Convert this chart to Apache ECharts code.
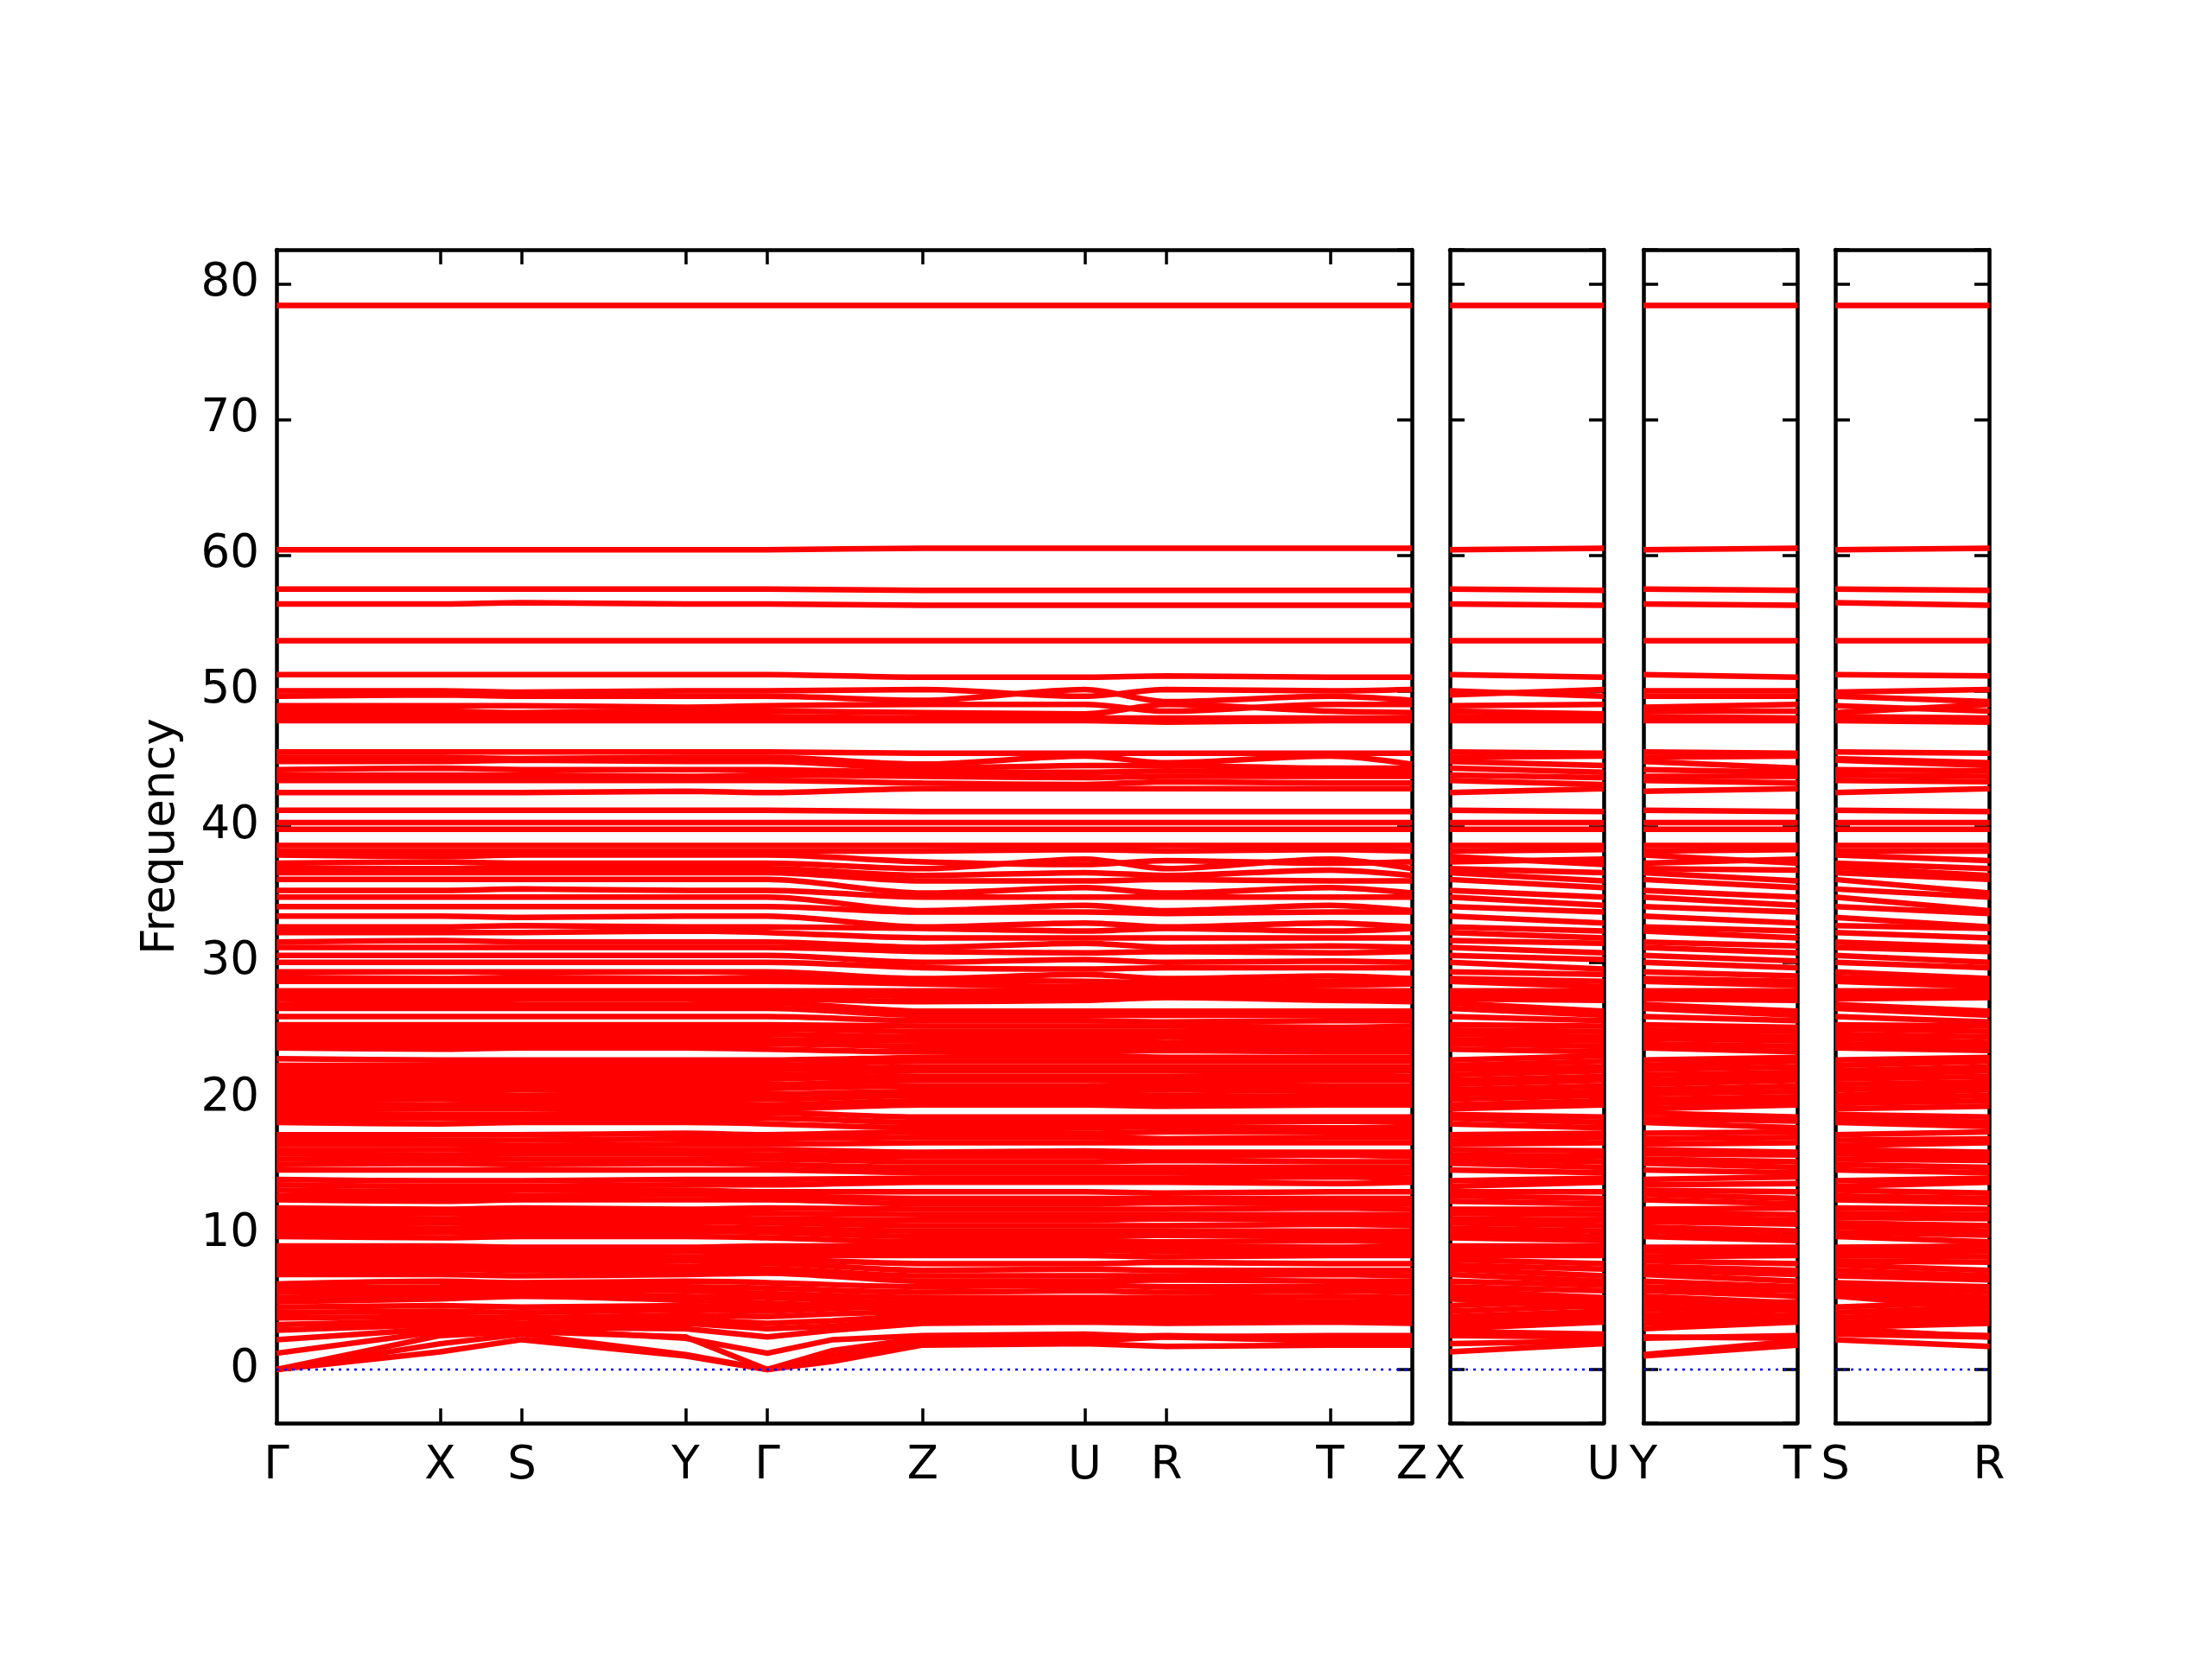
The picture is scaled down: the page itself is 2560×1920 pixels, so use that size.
<!DOCTYPE html>
<html><head><meta charset="utf-8">
<script src="https://cdn.jsdelivr.net/npm/echarts@6/dist/echarts.min.js"></script>
<style>html,body{margin:0;padding:0;background:#fff}#c{width:2560px;height:1920px}</style>
</head><body><div id="c"></div>
<script>
// k-path distances of the high-symmetry points on the main panel
const kPos = [0, 1, 1.5, 2.5, 3, 3.95, 4.94, 5.44, 6.44, 6.94];
const kLabels = ['Γ','X','S','Y','Γ','Z','U','R','T','Z'];
const subLen = 0.94;
const subLabels = [['X','U'], ['Y','T'], ['S','R']];
const subIdx = [[1,6], [3,8], [2,7]];

// band frequencies at [Γ, X, S, Y, Γ, Z, U, R, T, Z]
const bandsHigh = [
 [78.4,78.4,78.4,78.4,78.4,78.4,78.4,78.4,78.4,78.4],
 [60.4,60.4,60.4,60.4,60.4,60.5,60.5,60.5,60.5,60.5],
 [57.5,57.5,57.5,57.5,57.5,57.4,57.4,57.4,57.4,57.4],
 [56.4,56.4,56.5,56.4,56.4,56.3,56.3,56.3,56.3,56.3],
 [53.7,53.7,53.7,53.7,53.7,53.7,53.7,53.7,53.7,53.7],
 [51.2,51.2,51.2,51.2,51.2,51.0,51.0,51.1,51.0,51.0],
 [50.0,50.0,49.9,50.0,50.0,50.1,49.6,50.1,50.0,50.1],
 [49.6,49.7,49.6,49.6,49.6,49.3,50.1,49.2,49.6,49.3],
 [48.9,48.9,48.9,48.8,48.9,49.0,49.0,48.5,49.0,49.0],
 [48.5,48.5,48.4,48.5,48.5,48.4,48.3,49.0,48.5,48.4],
 [48.1,48.1,48.1,48.1,48.1,48.0,48.0,48.0,48.0,48.0],
 [47.8,47.8,47.8,47.8,47.8,47.8,47.8,47.7,47.8,47.8]
];
const bandsMid = [
 [45.5,45.5,45.5,45.5,45.5,45.4,45.4,45.4,45.4,45.4],
 [45.1,45.1,45.0,45.1,45.1,44.6,45.2,44.7,45.2,44.6],
 [44.8,44.8,44.9,44.8,44.8,44.3,44.5,44.5,44.3,44.3],
 [44.2,44.3,44.2,44.2,44.2,44.0,44.0,44.1,44.0,44.0],
 [43.8,43.8,43.8,43.7,43.8,43.7,43.6,43.7,43.7,43.7],
 [43.4,43.4,43.4,43.4,43.4,43.2,43.1,43.3,43.2,43.2],
 [42.5,42.5,42.5,42.6,42.5,42.8,42.8,42.8,42.8,42.8],
 [41.2,41.2,41.2,41.2,41.2,41.1,41.1,41.1,41.1,41.1],
 [40.3,40.3,40.3,40.3,40.3,40.3,40.3,40.3,40.3,40.3],
 [39.8,39.8,39.8,39.8,39.8,39.8,39.8,39.8,39.8,39.8],
 [38.6,38.6,38.6,38.6,38.6,38.6,38.6,38.6,38.6,38.6],
 [38.2,38.2,38.2,38.2,38.2,38.2,38.3,38.2,38.3,38.2],
 [37.9,37.8,37.9,37.9,37.9,37.4,37.2,37.5,37.3,37.4],
 [37.3,37.4,37.3,37.3,37.3,36.9,37.6,36.9,37.6,36.9],
 [36.9,36.9,37.0,36.9,36.9,36.4,36.6,36.4,36.8,36.4],
 [36.6,36.6,36.6,36.6,36.6,36.0,36.0,36.1,36.0,36.0],
 [36.1,36.1,36.1,36.1,36.1,35.1,35.5,35.1,35.5,35.1],
 [35.3,35.3,35.4,35.3,35.3,34.8,34.8,34.8,34.8,34.8],
 [34.8,34.8,34.8,34.8,34.8,33.8,34.2,33.8,34.2,33.8],
 [34.1,34.1,34.1,34.1,34.1,33.7,33.7,33.6,33.7,33.7],
 [33.4,33.4,33.3,33.4,33.4,32.6,32.9,32.6,32.9,32.6],
 [32.6,32.6,32.7,32.6,32.6,32.5,32.3,32.5,32.3,32.5],
 [32.2,32.2,32.2,32.3,32.2,31.8,31.8,31.8,31.8,31.8],
 [31.5,31.6,31.5,31.5,31.5,31.1,31.4,31.1,31.2,31.1],
 [31.1,31.1,31.1,31.1,31.1,30.8,30.7,30.8,30.7,30.8],
 [30.5,30.5,30.5,30.5,30.5,30.0,30.2,30.0,30.1,30.0],
 [30.0,30.0,30.0,30.0,30.0,29.6,29.5,29.6,29.6,29.6],
 [29.3,29.3,29.3,29.3,29.3,28.8,29.1,28.8,29.0,28.8],
 [28.9,28.8,28.9,28.8,28.9,28.7,28.6,28.5,28.6,28.7],
 [28.6,28.6,28.6,28.6,28.6,28.4,28.2,28.2,28.3,28.4]
];
const bandsDense = [
 [27.9,27.9,27.9,27.9,27.9,27.9,27.9,27.9,27.9,27.9],
 [27.6,27.6,27.6,27.6,27.6,27.5,27.5,27.7,27.5,27.5],
 [27.3,27.3,27.3,27.3,27.3,27.1,27.2,27.4,27.2,27.1],
 [26.9,27.0,26.9,26.9,27.0,26.4,26.4,26.4,26.4,26.4],
 [26.6,26.6,26.6,26.6,26.6,26.1,26.1,26.1,26.1,26.1],
 [26.0,26.0,26.0,26.0,26.0,25.7,25.7,25.6,25.7,25.7],
 [25.4,25.4,25.4,25.4,25.4,25.3,25.3,25.3,25.2,25.3],
 [25.1,25.0,25.1,25.0,25.1,24.9,24.9,24.9,24.9,24.9],
 [24.7,24.7,24.7,24.7,24.7,24.5,24.5,24.5,24.5,24.5],
 [24.4,24.3,24.4,24.4,24.3,24.2,24.2,24.1,24.2,24.2],
 [24.0,24.0,24.0,24.0,24.0,23.8,23.8,23.8,23.8,23.8],
 [23.7,23.6,23.7,23.7,23.6,23.4,23.4,23.5,23.4,23.4],
 [22.9,22.8,22.8,22.8,22.8,23.0,23.1,23.0,23.0,23.0],
 [22.4,22.4,22.4,22.4,22.4,22.7,22.7,22.7,22.7,22.7],
 [22.1,22.1,22.0,22.1,22.1,22.3,22.3,22.3,22.3,22.3],
 [21.7,21.7,21.7,21.7,21.7,22.0,22.0,22.0,21.9,22.0],
 [21.4,21.3,21.4,21.3,21.4,21.6,21.6,21.6,21.6,21.6],
 [21.0,21.0,21.0,21.0,21.0,21.3,21.3,21.2,21.3,21.3],
 [20.6,20.6,20.6,20.6,20.7,20.9,20.9,20.9,20.9,20.9],
 [20.3,20.3,20.2,20.3,20.3,20.5,20.5,20.6,20.5,20.5],
 [19.9,19.9,19.9,19.9,19.9,20.2,20.2,20.2,20.1,20.2],
 [19.6,19.5,19.6,19.6,19.5,19.8,19.8,19.8,19.8,19.8],
 [19.2,19.2,19.2,19.2,19.2,19.5,19.5,19.4,19.5,19.5],
 [18.9,18.8,18.8,18.9,18.9,18.6,18.6,18.6,18.6,18.6],
 [18.5,18.5,18.5,18.5,18.5,18.2,18.2,18.2,18.3,18.2],
 [18.2,18.1,18.2,18.2,18.1,17.8,17.8,17.9,17.8,17.8],
 [17.3,17.3,17.3,17.4,17.3,17.5,17.4,17.5,17.5,17.5],
 [17.0,16.9,16.9,17.0,17.0,17.1,17.1,17.0,17.1,17.1],
 [16.6,16.6,16.5,16.6,16.6,16.7,16.7,16.7,16.7,16.7],
 [16.2,16.2,16.2,16.2,16.2,16.0,16.1,16.0,16.0,16.0],
 [15.9,15.8,15.9,15.9,15.8,15.7,15.7,15.7,15.8,15.7],
 [15.5,15.5,15.5,15.5,15.5,15.3,15.3,15.4,15.3,15.3],
 [15.1,15.2,15.1,15.2,15.1,14.9,14.9,14.9,14.9,14.9],
 [14.7,14.7,14.7,14.7,14.7,14.5,14.5,14.5,14.5,14.5],
 [14.0,13.9,13.9,14.0,14.0,14.1,14.1,14.1,14.2,14.1],
 [13.6,13.5,13.5,13.6,13.6,13.8,13.8,13.8,13.7,13.8],
 [13.2,13.1,13.2,13.2,13.1,13.1,13.1,13.0,13.1,13.1],
 [12.8,12.8,12.8,12.9,12.8,12.6,12.6,12.6,12.6,12.6],
 [12.5,12.4,12.5,12.5,12.5,12.2,12.2,12.3,12.2,12.2],
 [11.9,11.8,11.9,11.8,11.9,11.8,11.8,11.8,11.9,11.8],
 [11.5,11.5,11.5,11.5,11.5,11.4,11.4,11.4,11.4,11.4],
 [11.2,11.1,11.2,11.2,11.1,11.0,11.0,11.1,11.0,11.0],
 [10.8,10.8,10.8,10.9,10.8,10.6,10.6,10.6,10.7,10.6],
 [10.5,10.4,10.5,10.5,10.4,10.2,10.2,10.2,10.2,10.2],
 [10.1,10.1,10.1,10.2,10.1,9.8,9.8,9.9,9.8,9.8],
 [9.8,9.7,9.8,9.8,9.7,9.4,9.5,9.4,9.5,9.4],
 [9.1,9.1,9.0,9.0,9.1,9.1,9.1,9.1,9.0,9.1],
 [8.7,8.8,8.7,8.7,8.7,8.7,8.8,8.7,8.7,8.7],
 [8.4,8.4,8.4,8.3,8.4,8.4,8.4,8.3,8.4,8.4],
 [8.0,8.1,8.0,8.0,8.1,7.8,7.8,7.9,7.8,7.8],
 [7.7,7.7,7.7,7.6,7.8,7.3,7.4,7.3,7.3,7.3],
 [7.3,7.4,7.3,7.3,7.4,6.9,6.9,6.9,7.0,6.9],
 [7.0,7.0,6.9,7.0,7.1,6.5,6.5,6.6,6.5,6.5],
 [6.3,6.5,6.4,6.5,6.4,6.1,6.2,6.1,6.1,6.1],
 [6.0,6.1,6.2,6.1,6.0,5.7,5.8,5.7,5.8,5.7],
 [5.7,5.8,5.9,5.8,5.6,5.3,5.3,5.3,5.4,5.3],
 [5.3,5.5,5.6,5.4,5.3,4.9,4.9,5.0,4.9,4.9],
 [5.0,5.2,5.4,5.1,4.9,4.5,4.6,4.5,4.6,4.5]
];
const bandsLow = [
 [4.6,4.7,4.6,4.7,4.6,5.0,5.1,5.0,5.0,5.0],
 [4.2,4.3,4.2,4.4,4.3,4.7,4.7,4.6,4.7,4.7],
 [3.8,3.9,3.8,4.0,3.9,4.3,4.3,4.3,4.4,4.3],
 [3.3,3.6,3.4,3.7,3.4,4.0,4.1,4.0,4.0,4.0],
 [2.9,3.3,3.2,3.4,3.0,3.7,3.8,3.7,3.7,3.7],
 [2.2,3.0,3.1,3.0,2.4,3.4,3.5,3.4,3.5,3.4],
 [1.2,2.8,3.0,2.3,1.2,2.5,2.6,2.4,2.5,2.5],
 [0.0,2.5,2.8,2.4,0.0,2.3,2.4,2.5,2.3,2.3],
 [0.0,1.9,2.6,1.1,0.0,2.1,2.1,2.4,2.1,2.1],
 [0.0,1.3,2.2,1.0,0.0,1.8,1.9,1.7,1.8,1.8]
];
// extra point of the low bands on the Γ–Z segment
const lowMidK = 3.4;
const bandsLowMid = [4.8, 4.5, 4.1, 3.6, 3.2, 2.9, 2.2, 1.4, 1.0, 0.6];

const FONT = 'DejaVu Sans';
const FS = 53;
const LW = 6.5;
const RED = '#ff0000';
const axisLine = {show: true, onZero: false, lineStyle: {color: '#000', width: 4.5}};
const tickStyle = {color: '#000', width: 3.5};
const Y_MIN = -3.95, Y_MAX = 82.5;

const gridBoxes = [
  {left: 320, top: 289, width: 1314, height: 1358},
  {left: 1678, top: 289, width: 178, height: 1358},
  {left: 1902, top: 289, width: 178, height: 1358},
  {left: 2124, top: 289, width: 178, height: 1358}
];

const xAxes = [], yAxes = [], series = [];
gridBoxes.forEach((g, gi) => {
  const isMain = gi === 0;
  const xmax = isMain ? kPos[kPos.length - 1] : subLen;
  const labVals = isMain ? kPos : [0, subLen];
  const labTxt = isMain ? kLabels : subLabels[gi - 1];
  xAxes.push({
    gridIndex: gi, type: 'value', min: 0, max: xmax, position: 'bottom',
    axisLine: axisLine,
    axisTick: {show: isMain, inside: true, length: 17, lineStyle: tickStyle,
      customValues: isMain ? kPos.slice(1, -1) : []},
    axisLabel: {show: true, customValues: labVals, margin: 24,
      fontFamily: FONT, fontSize: FS, color: '#000',
      formatter: v => { const i = labVals.findIndex(p => Math.abs(p - v) < 1e-6); return i >= 0 ? labTxt[i] : ''; }},
    splitLine: {show: false}
  });
  xAxes.push({
    gridIndex: gi, type: 'value', min: 0, max: xmax, position: 'top',
    axisLine: axisLine,
    axisTick: {show: isMain, inside: true, length: 17, lineStyle: tickStyle,
      customValues: isMain ? kPos.slice(1, -1) : []},
    axisLabel: {show: false}, splitLine: {show: false}
  });
  ['left', 'right'].forEach(pos => {
    const withLabels = isMain && pos === 'left';
    yAxes.push({
      gridIndex: gi, type: 'value', min: Y_MIN, max: Y_MAX, splitNumber: 9, position: pos,
      axisLine: axisLine,
      axisTick: {show: true, inside: true, length: 17, lineStyle: tickStyle},
      axisLabel: {show: withLabels, margin: 20, fontFamily: FONT, fontSize: FS, color: '#000',
        showMinLabel: false, showMaxLabel: false,
        formatter: v => (Math.abs(v - Math.round(v / 10) * 10) < 1e-6 ? String(Math.round(v)) : '')},
      splitLine: {show: false},
      name: withLabels ? 'Frequency' : '',
      nameLocation: 'middle', nameGap: 106,
      nameTextStyle: {fontFamily: FONT, fontSize: FS, color: '#000'}
    });
  });
});

function mainData(b, midVal) {
  const pts = kPos.map((x, i) => [x, b[i]]);
  if (midVal !== undefined) pts.splice(5, 0, [lowMidK, midVal]);
  return pts;
}
function addBand(b, midVal, smooth) {
  series.push({
    type: 'line', xAxisIndex: 0, yAxisIndex: 0, showSymbol: false, smooth: smooth,
    data: mainData(b, midVal),
    lineStyle: {color: RED, width: LW}, silent: true, z: 2
  });
  subIdx.forEach((ix, p) => {
    series.push({
      type: 'line', xAxisIndex: 2 * (p + 1), yAxisIndex: 2 * (p + 1), showSymbol: false,
      data: [[0, b[ix[0]]], [subLen, b[ix[1]]]],
      lineStyle: {color: RED, width: LW}, silent: true, z: 2
    });
  });
}
bandsHigh.concat(bandsMid, bandsDense).forEach(b => addBand(b, undefined, 0.3));
bandsLow.forEach((b, i) => addBand(b, bandsLowMid[i], false));

gridBoxes.forEach((g, gi) => {
  const xmax = gi === 0 ? kPos[kPos.length - 1] : subLen;
  series.push({
    type: 'line', xAxisIndex: 2 * gi, yAxisIndex: 2 * gi, showSymbol: false,
    data: [[0, 0], [xmax, 0]],
    lineStyle: {color: '#0000ff', width: 2.5, type: [3, 6]}, silent: true, z: 3
  });
});

const chart = echarts.init(document.getElementById('c'), null, {renderer: 'canvas'});
chart.setOption({
  animation: false,
  backgroundColor: '#fff',
  grid: gridBoxes.map(g => Object.assign({containLabel: false}, g)),
  xAxis: xAxes,
  yAxis: yAxes,
  series: series
});
</script>
</body></html>
